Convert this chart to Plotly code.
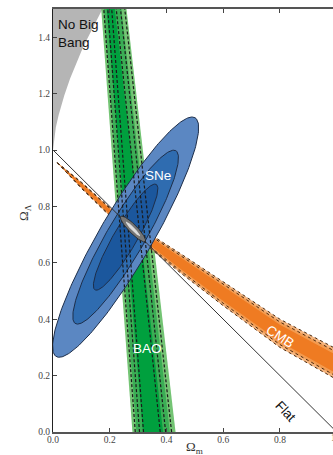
import numpy as np
import plotly.graph_objects as go

# ---- axis ticks ----
x_ticks = [0.0, 0.2, 0.4, 0.6, 0.8]
y_ticks = [0.0, 0.2, 0.4, 0.6, 0.8, 1.0, 1.2, 1.4]

# ---- "No Big Bang" boundary (Omega_m, Omega_Lambda) ----
nbb_om = [0.0, 0.005, 0.01, 0.02, 0.04, 0.06, 0.08, 0.10, 0.12, 0.14, 0.16, 0.18]
nbb_ol = [1.0, 1.050, 1.081, 1.124, 1.194, 1.253, 1.304, 1.350, 1.393, 1.434, 1.474, 1.511]

# ---- SNe confidence ellipses (3, 2, 1 sigma) ----
sne_center = (0.256, 0.691)
sne_angle = 60.0
sne_semi_major = [0.489, 0.354, 0.216]
sne_semi_minor = [0.093, 0.067, 0.041]
sne_colors = ["#5b87c2", "#2f6cb0", "#1b579d"]

# ---- BAO band edges at Omega_Lambda = 0 and 1.5 (3, 2, 1 sigma) ----
bao_ol_ends = [0.0, 1.5]
bao_left_bottom = [0.280, 0.294, 0.317]
bao_right_bottom = [0.432, 0.412, 0.388]
bao_left_top = [0.170, 0.179, 0.189]
bao_right_top = [0.259, 0.241, 0.218]
bao_colors = ["#74c474", "#3bae55", "#00a03e"]
bao_dash_bottom = [0.290, 0.305, 0.319, 0.378, 0.397, 0.418]
bao_dash_top = [0.179, 0.193, 0.207, 0.223, 0.238, 0.253]

# ---- CMB degeneracy band ----
cmb_om = [0.015, 0.1, 0.2, 0.282, 0.45, 0.6, 0.8, 1.0]
cmb_ol = [0.955, 0.875, 0.781, 0.72, 0.598, 0.49, 0.35, 0.24]
cmb_halfwidth = [0.0, 0.011, 0.015, 0.02, 0.034, 0.042, 0.05, 0.054]
cmb_scale = [1.0, 0.8, 0.6]
cmb_colors = ["#f6b57e", "#f39b50", "#ef7b22"]

# ---- combined constraint ----
comb_center = (0.282, 0.72)
comb_angle = -46.0
comb_semi_major = [0.062, 0.036]
comb_semi_minor = [0.015, 0.006]
comb_colors = ["#767676", "#dcdcdc"]

# ---- flat universe line ----
flat_om = [0.0, 1.0]
flat_ol = [1.0, 0.0]


def ellipse(center, a, b, angle_deg, n=240):
    t = np.linspace(0, 2 * np.pi, n)
    th = np.deg2rad(angle_deg)
    x = center[0] + a * np.cos(t) * np.cos(th) - b * np.sin(t) * np.sin(th)
    y = center[1] + a * np.cos(t) * np.sin(th) + b * np.sin(t) * np.cos(th)
    return x, y


def fill_trace(x, y, color, line_color=None, line_width=0):
    return go.Scatter(
        x=list(x), y=list(y), mode="lines", fill="toself", fillcolor=color,
        line=dict(color=line_color or color, width=line_width),
        hoverinfo="skip", showlegend=False,
    )


def line_trace(x, y, color, width=1.0, dash="solid"):
    return go.Scatter(
        x=list(x), y=list(y), mode="lines",
        line=dict(color=color, width=width, dash=dash),
        hoverinfo="skip", showlegend=False,
    )


fig = go.Figure()

# No Big Bang region
fig.add_trace(fill_trace(nbb_om + [0.0], nbb_ol + [1.6], "#b5b5b5"))

# BAO band
for i in range(3):
    xs = [bao_left_bottom[i], bao_left_top[i], bao_right_top[i], bao_right_bottom[i]]
    ys = [bao_ol_ends[0], bao_ol_ends[1], bao_ol_ends[1], bao_ol_ends[0]]
    fig.add_trace(fill_trace(xs, ys, bao_colors[i]))

# CMB band
om = np.array(cmb_om)
ol = np.array(cmb_ol)
hw = np.array(cmb_halfwidth)
for s, c in zip(cmb_scale, cmb_colors):
    xs = np.concatenate([om, om[::-1]])
    ys = np.concatenate([ol + hw * s, (ol - hw * s)[::-1]])
    fig.add_trace(fill_trace(xs, ys, c))
for s in cmb_scale[:2]:
    fig.add_trace(line_trace(om, ol + hw * s, "#4a2a10", 1.0, "dot"))
    fig.add_trace(line_trace(om, ol - hw * s, "#4a2a10", 1.0, "dot"))

# SNe ellipses
for a, b, c in zip(sne_semi_major, sne_semi_minor, sne_colors):
    ex, ey = ellipse(sne_center, a, b, sne_angle)
    fig.add_trace(fill_trace(ex, ey, c, "#1d2e4a", 1.0))

# BAO dashed contours
for xb, xt in zip(bao_dash_bottom, bao_dash_top):
    fig.add_trace(line_trace([xb, xt], bao_ol_ends, "#1a1a1a", 1.2, "3px,2px"))

# Flat line
fig.add_trace(line_trace(flat_om, flat_ol, "#333333", 1.0))

# Combined constraint
for i, (a, b, c) in enumerate(zip(comb_semi_major, comb_semi_minor, comb_colors)):
    ex, ey = ellipse(comb_center, a, b, comb_angle)
    fig.add_trace(fill_trace(ex, ey, c, "#222222", 0.8 if i == 0 else 0))

sans = "Liberation Sans, Arial, sans-serif"
serif = "Liberation Serif, Times New Roman, serif"

annotations = [
    dict(x=0.01, y=1.478, xref="x", yref="y", text="No Big<br>Bang", showarrow=False,
         xanchor="left", yanchor="top", align="left",
         font=dict(family=sans, size=13.5, color="#111111")),
    dict(x=0.369, y=0.911, xref="x", yref="y", text="SNe", showarrow=False,
         xanchor="center", yanchor="middle",
         font=dict(family=sans, size=13.5, color="white")),
    dict(x=0.332, y=0.295, xref="x", yref="y", text="BAO", showarrow=False,
         xanchor="center", yanchor="middle",
         font=dict(family=sans, size=13.5, color="white")),
    dict(x=0.80, y=0.338, xref="x", yref="y", text="CMB", showarrow=False, textangle=33,
         xanchor="center", yanchor="middle",
         font=dict(family=sans, size=13.5, color="white")),
    dict(x=0.82, y=0.072, xref="x", yref="y", text="Flat", showarrow=False, textangle=47,
         xanchor="center", yanchor="middle",
         font=dict(family=sans, size=13.5, color="#111111")),
    dict(x=0.5, y=-0.036, xref="x", yref="paper", text="Ω<sub>m</sub>", showarrow=False,
         xanchor="center", yanchor="middle",
         font=dict(family=serif, size=13, color="#333333")),
    dict(x=-0.104, y=0.78, xref="paper", yref="y", text="Ω<sub>Λ</sub>", showarrow=False,
         textangle=-90, xanchor="center", yanchor="middle",
         font=dict(family=serif, size=13, color="#333333")),
    dict(x=1.0 / 0.987, y=0, xref="paper", yref="paper", text="1.0", showarrow=False,
         xanchor="center", yanchor="top", yshift=1,
         font=dict(family=serif, size=9.5, color="#444444")),
]

fig.update_layout(
    width=333, height=455,
    margin=dict(l=53, r=0, t=9, b=23),
    plot_bgcolor="white", paper_bgcolor="white",
    annotations=annotations,
    xaxis=dict(
        range=[0, 0.987], tickvals=x_ticks, ticktext=[f"{v:.1f}" for v in x_ticks],
        ticks="inside", ticklen=4, tickwidth=1, tickcolor="#444444",
        showline=True, linecolor="#555555", linewidth=1.5, mirror="ticks",
        showgrid=False, zeroline=False, ticklabelstandoff=-2,
        tickfont=dict(family=serif, size=9.5, color="#444444"),
    ),
    yaxis=dict(
        range=[0, 1.5], tickvals=y_ticks, ticktext=[f"{v:.1f}" for v in y_ticks],
        ticks="inside", ticklen=4, tickwidth=1, tickcolor="#444444",
        showline=True, linecolor="#222222", linewidth=1.2,
        showgrid=False, zeroline=False,
        tickfont=dict(family=serif, size=9.5, color="#444444"),
    ),
)

fig.write_html("out.html")
